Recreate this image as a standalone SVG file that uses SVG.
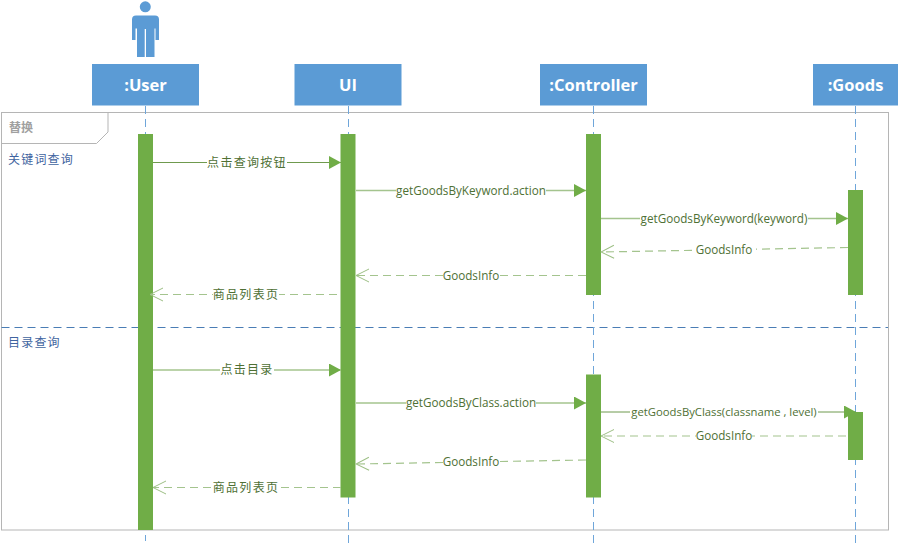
<svg xmlns="http://www.w3.org/2000/svg" width="899" height="550" viewBox="0 0 899 550">
<defs>
<marker id="solid" markerUnits="userSpaceOnUse" markerWidth="13" markerHeight="14" refX="12" refY="6.500" orient="auto"><path d="M0 0L12 6.500L0 13Z" fill="#70AD47"/></marker>
<marker id="open" markerUnits="userSpaceOnUse" markerWidth="15" markerHeight="16" refX="14" refY="7" orient="auto"><path d="M1 .5L14 7L1 13.500" fill="none" stroke="#9DBF85" stroke-width="1"/></marker>
</defs>
<style>
text{font-family:"Noto Sans CJK SC","Liberation Sans",sans-serif}
.head{fill:#5B9BD5}
.head-t{fill:#fff;font-size:16.500px;font-weight:700;text-anchor:middle;font-family:"Open Sans","Noto Sans CJK SC",sans-serif}
.life{stroke:#6FA6DA;stroke-dasharray:8 5;fill:none;stroke-width:1}
.bar{fill:#70AD47}
.call{stroke:#A4C48E;stroke-width:1.400;fill:none;marker-end:url(#solid)}
.dark{stroke:#6F9A4E;stroke-width:1}
.ret{stroke:#A4C48E;stroke-width:1.200;stroke-dasharray:8 5;fill:none;marker-end:url(#open)}
.lab{font-size:11.700px;fill:#4E7034;text-anchor:middle;font-family:"Open Sans","Noto Sans CJK SC",sans-serif}
.zh{font-size:12px;letter-spacing:1.300px;font-family:"Noto Sans CJK SC",sans-serif}
.bg{fill:#fff}
.guard{font-size:12px;letter-spacing:1.200px;fill:#3F64A0}
</style>
<g id="frame">
<rect x="1.500" y="112.500" width="887" height="417.500" fill="#fff" stroke="#B5B5B5" stroke-width="1"/>
<path d="M1.500 143.500H96.500L108 132V112.500" fill="none" stroke="#B5B5B5" stroke-width="1"/>
<text x="9" y="132" font-size="12" font-weight="700" fill="#A0A0A0">替换</text>
<text x="8" y="164" class="guard">关键词查询</text>
<text x="8" y="347" class="guard">目录查询</text>
<line x1="1.500" y1="327.500" x2="888" y2="327.500" stroke="#4A7DB5" stroke-dasharray="8 5" stroke-width="1"/>
</g>
<g id="connectors">
<line class="life" x1="145.500" y1="106" x2="145.500" y2="541"/>
<line class="life" x1="348.500" y1="106" x2="348.500" y2="545"/>
<line class="life" x1="593.500" y1="106" x2="593.500" y2="545"/>
<line class="life" x1="855.500" y1="106" x2="855.500" y2="545"/>
</g>
<g id="user">
<circle cx="145.300" cy="6.800" r="5.500" fill="#5B9BD5"/>
<path d="M136 15.500H155Q159 15.500 159 19.500V40H155.500V28.500H154.500V57H146V29H144.700V57H137V28.500H135.500V40H132V19.500Q132 15.500 136 15.500Z" fill="#5B9BD5"/>
<rect class="head" x="92" y="64" width="107" height="41.500"/>
<text class="head-t" x="145.500" y="91">:User</text>
<rect class="bar" x="138" y="134" width="15" height="396"/>
</g>
<g id="ui">
<rect class="head" x="294.500" y="64" width="107" height="41.500"/>
<text class="head-t" x="348" y="91">UI</text>
<rect class="bar" x="340.500" y="134" width="15" height="363.500"/>
</g>
<g id="controller">
<rect class="head" x="540" y="64" width="107" height="41.500"/>
<text class="head-t" x="593.500" y="91">:Controller</text>
<rect class="bar" x="586" y="134" width="15" height="161"/>
<rect class="bar" x="586" y="374.500" width="15" height="123"/>
</g>
<g id="goods">
<rect class="head" x="813" y="64" width="85" height="41.500"/>
<text class="head-t" x="855.500" y="91">:Goods</text>
<rect class="bar" x="848" y="190" width="15" height="105"/>
<rect class="bar" x="848" y="412" width="15" height="48"/>
</g>
<g id="messages">
<line class="call dark" x1="153" y1="162.500" x2="341" y2="162.500"/>
<rect class="bg" x="207" y="155" width="80" height="15"/><text class="lab zh" x="247" y="166.500">点击查询按钮</text>
<line class="call" x1="356" y1="190.500" x2="586" y2="190.500"/>
<rect class="bg" x="396" y="183" width="150" height="15"/><text class="lab" x="471" y="194.500">getGoodsByKeyword.action</text>
<line class="call" x1="601" y1="218.500" x2="848" y2="218.500"/>
<rect class="bg" x="640" y="211" width="168" height="15"/><text class="lab" x="724" y="222.500">getGoodsByKeyword(keyword)</text>
<line class="ret" x1="848" y1="247.500" x2="601" y2="252"/>
<rect class="bg" x="692" y="242" width="64" height="15"/><text class="lab" x="724" y="254">GoodsInfo</text>
<line class="ret" x1="586" y1="275.500" x2="356" y2="275.500"/>
<rect class="bg" x="443" y="268" width="56" height="15"/><text class="lab" x="471" y="279.500">GoodsInfo</text>
<line class="ret" x1="337" y1="294.500" x2="150" y2="294.500"/>
<rect class="bg" x="213" y="287" width="66" height="15"/><text class="lab zh" x="246" y="299">商品列表页</text>
<line class="call" x1="153" y1="370" x2="341" y2="370"/>
<rect class="bg" x="220" y="362" width="54" height="15"/><text class="lab zh" x="247" y="374">点击目录</text>
<line class="call" x1="356" y1="403" x2="586" y2="403"/>
<rect class="bg" x="406" y="395" width="130" height="15"/><text class="lab" x="471" y="407">getGoodsByClass.action</text>
<line class="call dark" x1="601" y1="412" x2="856" y2="412"/>
<rect class="bg" x="630" y="404" width="188" height="15"/><text class="lab" x="724" y="416" font-size="11.300" style="font-size:11.300px">getGoodsByClass(classname , level)</text>
<line class="ret" x1="846" y1="436" x2="601" y2="436"/>
<rect class="bg" x="696" y="428" width="56" height="15"/><text class="lab" x="724" y="440">GoodsInfo</text>
<line class="ret" x1="586" y1="460" x2="356" y2="464"/>
<rect class="bg" x="443" y="454" width="56" height="15"/><text class="lab" x="471" y="466">GoodsInfo</text>
<line class="ret" x1="341" y1="487.500" x2="153" y2="487.500"/>
<rect class="bg" x="213" y="480" width="66" height="15"/><text class="lab zh" x="246" y="491.500">商品列表页</text>
</g>
</svg>
